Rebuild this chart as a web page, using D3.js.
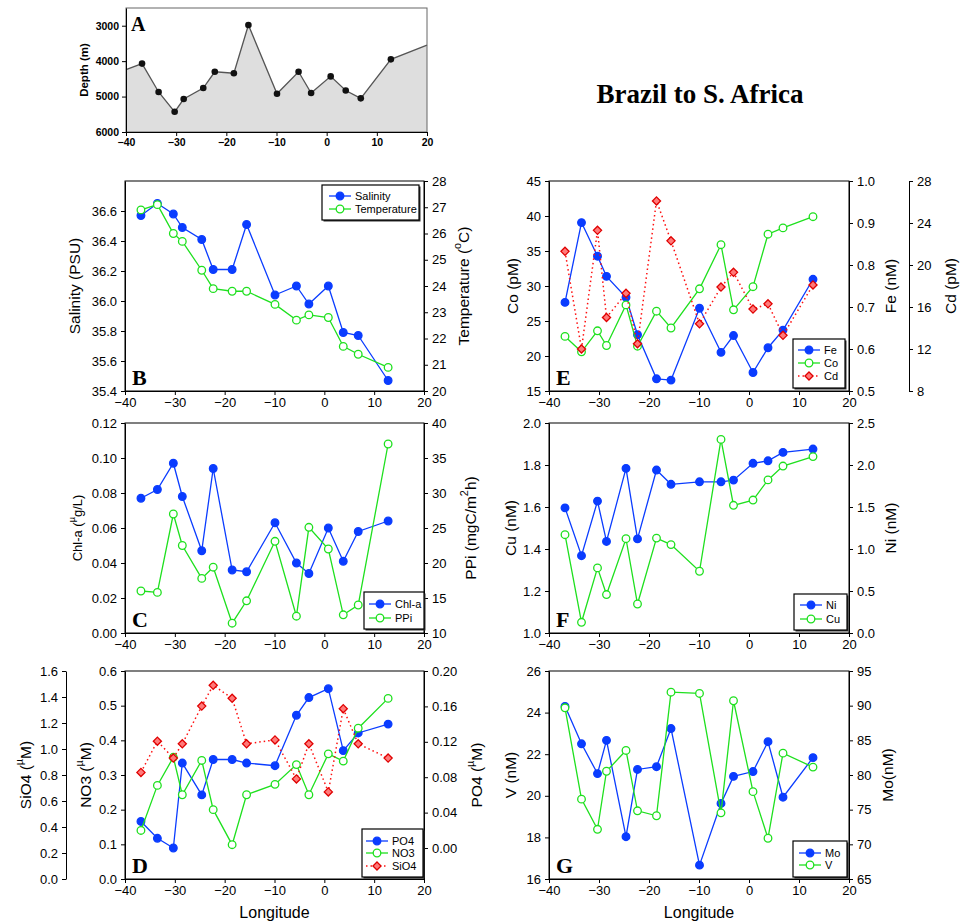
<!DOCTYPE html>
<html>
<head>
<meta charset="utf-8">
<script src="https://cdn.jsdelivr.net/npm/d3@7/dist/d3.min.js"></script>
<style>
  body { margin: 0; background: #fff; }
  svg { font-family: "Liberation Sans", Arial, sans-serif; }
  .tick text { font-size: 13px; fill: #000; }
  .tick line, .domain { stroke: #000; }
  .title { font-size: 15.5px; }
  .letter { font-family: "Liberation Serif", "Times New Roman", serif; font-weight: bold; font-size: 22px; }
  .leg { font-size: 11px; }
</style>
</head>
<body>
<div id="chart"></div>
<script>
// station longitudes, shared by every panel
const lon = [-36.8, -33.5, -30.3, -28.5, -24.6, -22.3, -18.5, -15.6, -9.9, -5.6, -3.1, 0.8, 3.8, 6.8, 12.8];

// A: bottom depth (m) at stations, plus the profile ends at -40 and 20
const depth = [4070, 4870, 5430, 5070, 4760, 4300, 4340, 2980, 4920, 4300, 4900, 4430, 4830, 5050, 3950];
const profileEnds = [[-40, 4240], [20, 3550]];

// B
const salinity = [36.57, 36.65, 36.58, 36.49, 36.41, 36.21, 36.21, 36.51, 36.04, 36.10, 35.98, 36.10, 35.79, 35.77, 35.47];
const temperature = [26.9, 27.1, 26.0, 25.7, 24.6, 23.9, 23.8, 23.8, 23.3, 22.7, 22.9, 22.8, 21.7, 21.4, 20.9];

// C
const chla = [0.077, 0.082, 0.097, 0.078, 0.047, 0.094, 0.036, 0.035, 0.063, 0.040, 0.034, 0.060, 0.041, 0.058, 0.064];
const ppi = [16.0, 15.8, 27.0, 22.5, 17.8, 19.4, 11.4, 14.6, 23.1, 12.4, 25.1, 22.0, 12.6, 14.0, 37.0];

// D
const po4 = [0.030, 0.011, 0.000, 0.096, 0.060, 0.100, 0.100, 0.096, 0.093, 0.150, 0.170, 0.180, 0.110, 0.130, 0.140];
const no3 = [0.140, 0.270, 0.351, 0.243, 0.342, 0.200, 0.099, 0.243, 0.273, 0.330, 0.243, 0.361, 0.340, 0.435, 0.521];
const sio4 = [0.82, 1.06, 0.93, 1.04, 1.33, 1.49, 1.39, 1.04, 1.07, 0.77, 1.04, 0.67, 1.31, 1.04, 0.93];

// E
const fe = [0.711, 0.901, 0.821, 0.773, 0.723, 0.634, 0.529, 0.526, 0.697, 0.592, 0.632, 0.544, 0.603, 0.645, 0.766];
const co = [22.8, 20.6, 23.6, 21.5, 27.3, 21.4, 26.4, 24.0, 29.6, 35.9, 26.6, 29.9, 37.4, 38.3, 39.9];
const cd = [21.3, 12.0, 23.3, 15.0, 17.3, 12.5, 26.1, 22.3, 14.4, 17.9, 19.3, 15.8, 16.3, 13.3, 18.1];

// F
const ni = [1.49, 0.92, 1.57, 1.09, 1.96, 1.12, 1.94, 1.77, 1.80, 1.80, 1.82, 2.02, 2.05, 2.15, 2.19];
const cu = [1.468, 1.051, 1.310, 1.183, 1.449, 1.138, 1.452, 1.421, 1.294, 1.922, 1.608, 1.633, 1.729, 1.795, 1.840];

// G
const mo = [89.9, 84.5, 80.2, 85.0, 71.1, 80.8, 81.2, 86.7, 67.0, 75.9, 79.8, 80.5, 84.8, 76.8, 82.5];
const vana = [24.23, 19.84, 18.39, 21.18, 22.18, 19.28, 19.04, 24.98, 24.92, 19.18, 24.57, 20.20, 17.96, 22.05, 21.38];

// tick values
const lonTicks = [-40, -30, -20, -10, 0, 10, 20];
const depthTicks = [3000, 4000, 5000, 6000];
const salTicks = [35.4, 35.6, 35.8, 36.0, 36.2, 36.4, 36.6];
const tempTicks = [20, 21, 22, 23, 24, 25, 26, 27, 28];
const chlTicks = [0, 0.02, 0.04, 0.06, 0.08, 0.10, 0.12];
const ppiTicks = [10, 15, 20, 25, 30, 35, 40];
const no3Ticks = [0, 0.1, 0.2, 0.3, 0.4, 0.5, 0.6];
const sio4Ticks = [0, 0.2, 0.4, 0.6, 0.8, 1.0, 1.2, 1.4, 1.6];
const po4Ticks = [0, 0.04, 0.08, 0.12, 0.16, 0.20];
const coTicks = [15, 20, 25, 30, 35, 40, 45];
const feTicks = [0.5, 0.6, 0.7, 0.8, 0.9, 1.0];
const cdTicks = [8, 12, 16, 20, 24, 28];
const cuTicks = [1.0, 1.2, 1.4, 1.6, 1.8, 2.0];
const niTicks = [0, 0.5, 1.0, 1.5, 2.0, 2.5];
const vTicks = [16, 18, 20, 22, 24, 26];
const moTicks = [65, 70, 75, 80, 85, 90, 95];

const BLUE = "#0a3cff", GREEN = "#1ee01e", RED = "#ff1010";

const svg = d3.select("#chart").append("svg")
  .attr("width", 961)
  .attr("height", 921);

// ---------- panel A : bathymetry ----------
const xa = d3.scaleLinear().domain([-40, 20]).range([126, 427]);
const ya = d3.scaleLinear().domain([2500, 6000]).range([8, 132]);
const prof = [profileEnds[0]].concat(lon.map((l, i) => [l, depth[i]]), [profileEnds[1]]);

const gA = svg.append("g");
gA.append("path")
  .datum(prof)
  .attr("fill", "#dedede")
  .attr("d", d3.area().x(d => xa(d[0])).y0(ya(6000)).y1(d => ya(d[1])));
gA.append("path")
  .datum(prof)
  .attr("fill", "none")
  .attr("stroke", "#555")
  .attr("stroke-width", 1.3)
  .attr("d", d3.line().x(d => xa(d[0])).y(d => ya(d[1])));
gA.selectAll("circle")
  .data(lon)
  .join("circle")
  .attr("cx", d => xa(d))
  .attr("cy", (d, i) => ya(depth[i]))
  .attr("r", 3.3)
  .attr("fill", "#111");
gA.append("rect")
  .attr("x", 126).attr("y", 8).attr("width", 301).attr("height", 124)
  .attr("fill", "none").attr("stroke", "#666").attr("stroke-width", 1);
const axA1 = gA.append("g").attr("transform", "translate(0,132)")
  .call(d3.axisBottom(xa).tickValues(lonTicks).tickSize(4).tickPadding(3).tickSizeOuter(0));
const axA2 = gA.append("g").attr("transform", "translate(126,0)")
  .call(d3.axisLeft(ya).tickValues(depthTicks).tickFormat(d3.format("d")).tickSize(4).tickPadding(3).tickSizeOuter(0));
[axA1, axA2].forEach(a => {
  a.selectAll(".tick text").style("font-size", "10.5px").style("font-weight", "bold").attr("fill", "#222");
  a.selectAll(".tick line, .domain").attr("stroke", "#555");
});
gA.append("text")
  .attr("transform", "translate(84,70) rotate(-90)")
  .attr("text-anchor", "middle")
  .attr("dominant-baseline", "central")
  .style("font-size", "11.5px").style("font-weight", "bold")
  .text("Depth (m)");
gA.append("text").attr("class", "letter").attr("x", 131).attr("y", 31).style("font-size", "20px").text("A");

// title
svg.append("text")
  .attr("x", 700).attr("y", 103)
  .attr("text-anchor", "middle")
  .style("font-family", "'Liberation Serif', 'Times New Roman', serif")
  .style("font-weight", "bold")
  .style("font-size", "27px")
  .text("Brazil to S. Africa");

// ---------- generic panel ----------
function rotLabel(g, x, y, parts, size) {
  const t = g.append("text")
    .attr("transform", `translate(${x},${y}) rotate(-90)`)
    .attr("text-anchor", "middle")
    .attr("dominant-baseline", "central")
    .attr("class", "title");
  if (size) t.style("font-size", size);
  parts.forEach(p => {
    if (typeof p === "string") t.append("tspan").text(p);
    else t.append("tspan").attr("baseline-shift", "super").style("font-size", "70%").text(p.sup);
  });
}

function drawSeries(g, x, y, vals, kind) {
  const pts = lon.map((l, i) => [l, vals[i]]);
  const col = kind === "filled" ? BLUE : kind === "open" ? GREEN : RED;
  g.append("path")
    .datum(pts)
    .attr("fill", "none")
    .attr("stroke", col)
    .attr("stroke-width", kind === "dotted" ? 1.5 : 1.3)
    .attr("stroke-dasharray", kind === "dotted" ? "1.5,3" : null)
    .attr("d", d3.line().x(d => x(d[0])).y(d => y(d[1])));
  drawMarks(g, pts.map(d => [x(d[0]), y(d[1])]), kind);
}

function drawMarks(g, xy, kind) {
  if (kind === "dotted") {
    g.selectAll(null).data(xy).join("path")
      .attr("transform", d => `translate(${d[0]},${d[1]})`)
      .attr("d", d3.symbol().type(d3.symbolDiamond2).size(42))
      .attr("fill", "#ff7a7a")
      .attr("stroke", "#e00000")
      .attr("stroke-width", 1.3);
  } else {
    g.selectAll(null).data(xy).join("circle")
      .attr("cx", d => d[0]).attr("cy", d => d[1])
      .attr("r", 3.8)
      .attr("fill", kind === "filled" ? BLUE : "#fff")
      .attr("stroke", kind === "filled" ? BLUE : GREEN)
      .attr("stroke-width", 1.3);
  }
}

function legend(g, o) {
  g.append("rect")
    .attr("x", o.x + 1.5).attr("y", o.y + 1.5).attr("width", o.w).attr("height", o.h)
    .attr("fill", "#333");
  g.append("rect")
    .attr("x", o.x).attr("y", o.y).attr("width", o.w).attr("height", o.h)
    .attr("fill", "#fff").attr("stroke", "#000").attr("stroke-width", 1.2);
  o.items.forEach((it, i) => {
    const yy = o.rows[i];
    const col = it.kind === "filled" ? BLUE : it.kind === "open" ? GREEN : RED;
    g.append("line")
      .attr("x1", o.lx).attr("x2", o.lx + 22).attr("y1", yy).attr("y2", yy)
      .attr("stroke", col).attr("stroke-width", it.kind === "dotted" ? 1.5 : 1.3)
      .attr("stroke-dasharray", it.kind === "dotted" ? "1.5,3" : null);
    drawMarks(g, [[o.lx + 11, yy]], it.kind);
    g.append("text").attr("class", "leg")
      .attr("x", o.lx + 26).attr("y", yy).attr("dominant-baseline", "central")
      .text(it.name);
  });
}

function panel(o) {
  const g = svg.append("g");
  const x = d3.scaleLinear().domain([-40, 20]).range([o.x0, o.x1]);
  const yl = d3.scaleLinear().domain(o.left.domain).range([o.y1, o.y0]);
  const yr = o.right ? d3.scaleLinear().domain(o.right.domain).range([o.y1, o.y0]) : null;
  const scales = { left: yl, right: yr };
  if (o.extra) scales.extra = d3.scaleLinear().domain(o.extra.domain).range([o.y1, o.y0]);

  g.append("rect")
    .attr("x", o.x0).attr("y", o.y0).attr("width", o.x1 - o.x0).attr("height", o.y1 - o.y0)
    .attr("fill", "none").attr("stroke", "#000");

  g.append("g").attr("transform", `translate(0,${o.y1})`)
    .call(d3.axisBottom(x).tickValues(lonTicks).tickSize(4).tickPadding(3).tickSizeOuter(0));
  g.append("g").attr("transform", `translate(${o.x0},0)`)
    .call(d3.axisLeft(yl).tickValues(o.left.ticks).tickFormat(d3.format(o.left.fmt)).tickSize(4).tickPadding(4).tickSizeOuter(0));
  if (yr) g.append("g").attr("transform", `translate(${o.x1},0)`)
    .call(d3.axisRight(yr).tickValues(o.right.ticks).tickFormat(d3.format(o.right.fmt)).tickSize(4).tickPadding(4).tickSizeOuter(0));
  if (o.extra) {
    const ax = o.extra.side === "left" ? d3.axisLeft(scales.extra) : d3.axisRight(scales.extra);
    g.append("g").attr("transform", `translate(${o.extra.pos},0)`)
      .call(ax.tickValues(o.extra.ticks).tickFormat(d3.format(o.extra.fmt)).tickSize(4).tickPadding(4).tickSizeOuter(0));
    rotLabel(g, o.extra.tx, (o.y0 + o.y1) / 2, o.extra.title);
  }

  rotLabel(g, o.left.tx, (o.y0 + o.y1) / 2, o.left.title, o.left.size);
  if (yr) rotLabel(g, o.right.tx, (o.y0 + o.y1) / 2, o.right.title, o.right.size);

  if (o.xTitle) g.append("text")
    .attr("x", (o.x0 + o.x1) / 2).attr("y", o.y1 + 39)
    .attr("text-anchor", "middle").attr("class", "title").style("font-size", "16px")
    .text("Longitude");

  o.series.forEach(s => drawSeries(g, x, scales[s.axis], s.vals, s.kind));

  g.append("text").attr("class", "letter").attr("x", o.x0 + 7).attr("y", o.y1 - 6).text(o.letter);
  legend(g, Object.assign({}, o.legend, { items: o.series }));
}

const L0 = 125, L1 = 424, R0 = 549, R1 = 849;
const rowB = [181, 391], rowC = [423, 633], rowD = [671, 879];

panel({
  x0: L0, x1: L1, y0: rowB[0], y1: rowB[1], letter: "B",
  left: { domain: [35.4, 36.8], ticks: salTicks, fmt: ".1f", tx: 74, title: ["Salinity (PSU)"] },
  right: { domain: [20, 28], ticks: tempTicks, fmt: "d", tx: 463, title: ["Temperature (", { sup: "o" }, "C)"] },
  series: [
    { name: "Salinity", axis: "left", vals: salinity, kind: "filled" },
    { name: "Temperature", axis: "right", vals: temperature, kind: "open" }
  ],
  legend: { x: 322, y: 185, w: 97, h: 35, lx: 329, rows: [196, 209] }
});

panel({
  x0: L0, x1: L1, y0: rowC[0], y1: rowC[1], letter: "C",
  left: { domain: [0, 0.12], ticks: chlTicks, fmt: ".2f", tx: 77, size: "13px", title: ["Chl-a (", { sup: "\u00b5" }, "g/L)"] },
  right: { domain: [10, 40], ticks: ppiTicks, fmt: "d", tx: 470, title: ["PPi (mgC/m", { sup: "2" }, "h)"] },
  series: [
    { name: "Chl-a", axis: "left", vals: chla, kind: "filled" },
    { name: "PPi", axis: "right", vals: ppi, kind: "open" }
  ],
  legend: { x: 364, y: 592, w: 60, h: 37, lx: 369, rows: [604, 618] }
});

panel({
  x0: L0, x1: L1, y0: rowD[0], y1: rowD[1], letter: "D", xTitle: true,
  left: { domain: [0, 0.6], ticks: no3Ticks, fmt: ".1f", tx: 85, title: ["NO3 (", { sup: "\u00b5" }, "M)"] },
  right: { domain: [-0.035, 0.20], ticks: po4Ticks, fmt: ".2f", tx: 476, title: ["PO4 (", { sup: "\u00b5" }, "M)"] },
  extra: { domain: [0, 1.6], ticks: sio4Ticks, fmt: ".1f", side: "left", pos: 66, tx: 25, title: ["SiO4 (", { sup: "\u00b5" }, "M)"] },
  series: [
    { name: "PO4", axis: "right", vals: po4, kind: "filled" },
    { name: "NO3", axis: "left", vals: no3, kind: "open" },
    { name: "SiO4", axis: "extra", vals: sio4, kind: "dotted" }
  ],
  legend: { x: 362, y: 829, w: 61, h: 48, lx: 366, rows: [841, 853, 866] }
});

panel({
  x0: R0, x1: R1, y0: rowB[0], y1: rowB[1], letter: "E",
  left: { domain: [15, 45], ticks: coTicks, fmt: "d", tx: 512, title: ["Co (pM)"] },
  right: { domain: [0.5, 1.0], ticks: feTicks, fmt: ".1f", tx: 890, title: ["Fe (nM)"] },
  extra: { domain: [8, 28], ticks: cdTicks, fmt: "d", side: "right", pos: 909, tx: 950, title: ["Cd (pM)"] },
  series: [
    { name: "Fe", axis: "right", vals: fe, kind: "filled" },
    { name: "Co", axis: "left", vals: co, kind: "open" },
    { name: "Cd", axis: "extra", vals: cd, kind: "dotted" }
  ],
  legend: { x: 793, y: 339, w: 52, h: 49, lx: 798, rows: [350, 363, 376] }
});

panel({
  x0: R0, x1: R1, y0: rowC[0], y1: rowC[1], letter: "F",
  left: { domain: [1.0, 2.0], ticks: cuTicks, fmt: ".1f", tx: 510, title: ["Cu (nM)"] },
  right: { domain: [0, 2.5], ticks: niTicks, fmt: ".1f", tx: 890, title: ["Ni (nM)"] },
  series: [
    { name: "Ni", axis: "right", vals: ni, kind: "filled" },
    { name: "Cu", axis: "left", vals: cu, kind: "open" }
  ],
  legend: { x: 794, y: 594, w: 53, h: 36, lx: 800, rows: [605, 619] }
});

panel({
  x0: R0, x1: R1, y0: rowD[0], y1: rowD[1], letter: "G", xTitle: true,
  left: { domain: [16, 26], ticks: vTicks, fmt: "d", tx: 510, title: ["V (nM)"] },
  right: { domain: [65, 95], ticks: moTicks, fmt: "d", tx: 887, title: ["Mo(nM)"] },
  series: [
    { name: "Mo", axis: "right", vals: mo, kind: "filled" },
    { name: "V", axis: "left", vals: vana, kind: "open" }
  ],
  legend: { x: 793, y: 841, w: 54, h: 36, lx: 799, rows: [853, 865] }
});
</script>
</body>
</html>
